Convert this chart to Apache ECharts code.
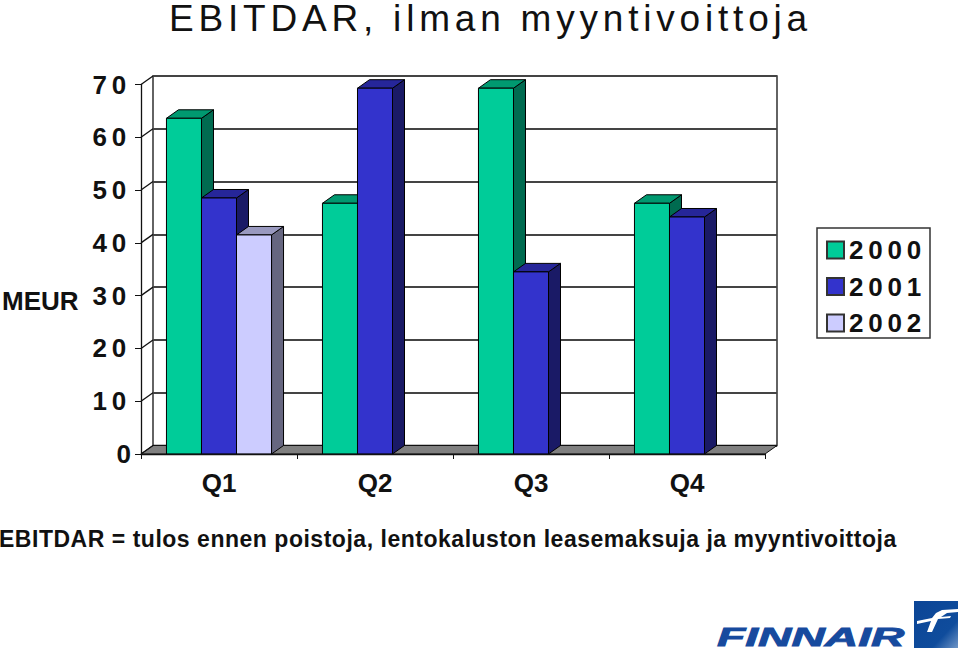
<!DOCTYPE html>
<html>
<head>
<meta charset="utf-8">
<style>html,body{margin:0;padding:0;background:#fff}#c{width:960px;height:650px}</style>
<script src="https://cdn.jsdelivr.net/npm/echarts@6/dist/echarts.min.js"></script>
</head>
<body>
<div id="c"></div>
<script>
const categories = ['Q1', 'Q2', 'Q3', 'Q4'];
const values2000 = [63.6, 47.5, 69.3, 47.5];
const values2001 = [48.5, 69.3, 34.5, 44.9];
const values2002 = [41.5, null, null, null];
const yTicks = [0, 10, 20, 30, 40, 50, 60, 70];
const seriesNames = ['2000', '2001', '2002'];
const titleText = 'EBITDAR, ilman myyntivoittoja';
const unitText = 'MEUR';
const footText = 'EBITDAR = tulos ennen poistoja, lentokaluston leasemaksuja ja myyntivoittoja';

const FONT = '"Liberation Sans", Arial, sans-serif';
const DX = 12, DY = 8.5;
const faces = [
  { front: '#00CC99', side: '#006B50', top: '#009970' },
  { front: '#3333CC', side: '#1A1A66', top: '#262699' },
  { front: '#CCCCFF', side: '#666680', top: '#9999BF' }
];
const edge = { stroke: '#000', lineWidth: 1 };

function bar3d(si) {
  return function (params, api) {
    const v = api.value(1);
    if (v == null || isNaN(v)) return null;
    const cat = api.value(0);
    const band = api.size([1, 0])[0];
    const w = band * 0.2245;
    const c = api.coord([cat, 0]);
    const t = api.coord([cat, v]);
    const x0 = c[0] + (si - 1.5) * w;
    const x1 = x0 + w, y0 = c[1], y1 = t[1];
    const col = faces[si];
    return {
      type: 'group',
      children: [
        { type: 'polygon', shape: { points: [[x1, y0], [x1 + DX, y0 - DY], [x1 + DX, y1 - DY], [x1, y1]] }, style: Object.assign({ fill: col.side }, edge) },
        { type: 'polygon', shape: { points: [[x0, y1], [x1, y1], [x1 + DX, y1 - DY], [x0 + DX, y1 - DY]] }, style: Object.assign({ fill: col.top }, edge) },
        { type: 'rect', shape: { x: x0, y: y1, width: w, height: y0 - y1 }, style: Object.assign({ fill: col.front }, edge) }
      ]
    };
  };
}

function makeBar(si, arr) {
  return {
    type: 'custom', name: seriesNames[si], xAxisIndex: 0, yAxisIndex: 0, z: 5 + si,
    coordinateSystem: 'cartesian2d',
    itemStyle: { color: faces[si].front, borderColor: '#333', borderWidth: 1 },
    data: arr.map((v, i) => [i, v]),
    encode: { x: 0, y: 1 },
    renderItem: bar3d(si)
  };
}

const option = {
  animation: false,
  backgroundColor: '#fff',
  title: {
    text: titleText, left: 169, top: 0, padding: 0,
    textStyle: { fontFamily: FONT, fontSize: 37, fontWeight: 'normal', color: '#111' }
  },
  legend: {
    data: seriesNames, orient: 'vertical', left: 817, top: 228, icon: 'rect',
    padding: [9, 0, 0, 9], itemWidth: 17, itemHeight: 17, itemGap: 10.5, selectedMode: false,
    textStyle: { fontFamily: FONT, fontSize: 26, fontWeight: 'bold', color: '#111' }
  },
  grid: [
    { left: 141, top: 84.5, width: 624, height: 369.5, containLabel: false },
    { left: 153, top: 76, width: 624, height: 369.5, show: true, borderColor: '#111', borderWidth: 1.3, backgroundColor: '#fff' }
  ],
  xAxis: [
    { type: 'category', gridIndex: 0, data: categories, z: 8,
      axisLine: { lineStyle: { color: '#111', width: 1.3 } },
      axisTick: { show: true, length: 5, lineStyle: { color: '#111' } },
      axisLabel: { margin: 16, fontFamily: FONT, fontSize: 26, fontWeight: 'bold', color: '#111' } },
    { type: 'category', gridIndex: 1, data: categories, show: false }
  ],
  yAxis: [
    { type: 'value', gridIndex: 0, min: 0, max: 70, interval: 10, z: 8,
      splitLine: { show: false },
      axisLine: { show: true, lineStyle: { color: '#111', width: 1.3 } },
      axisTick: { show: true, length: 6, lineStyle: { color: '#111' } },
      axisLabel: { margin: 10, fontFamily: FONT, fontSize: 26, fontWeight: 'bold', color: '#111' } },
    { type: 'value', gridIndex: 1, min: 0, max: 70, interval: 10,
      axisLine: { show: false }, axisTick: { show: false }, axisLabel: { show: false },
      splitLine: { show: true, lineStyle: { color: '#444', width: 2 } } }
  ],
  graphic: [
    { type: 'rect', x: 817, y: 228, z: -1, shape: { width: 113, height: 110 },
      style: { fill: '#fff', stroke: '#333', lineWidth: 1.5 } },
    { type: 'text', x: 2, y: 288, style: { text: unitText, font: 'bold 26px ' + FONT, fill: '#111' } },
    { type: 'text', x: -1, y: 527, style: { text: footText, font: 'bold 23px ' + FONT, fill: '#111' } },
    { type: 'rect', x: 914, y: 601, shape: { width: 44, height: 47 },
      style: { fill: new echarts.graphic.LinearGradient(0, 0, 1, 1, [
        { offset: 0, color: '#0B4596' }, { offset: 0.7, color: '#0F4C9C' }, { offset: 1, color: '#6F95C6' }]) } },
    { type: 'polygon', x: 914, y: 601, shape: { points: [[3, 20], [18, 17], [22, 12], [28, 9], [44, 8], [44, 11], [33, 12], [27, 16], [37, 15], [36, 17], [24, 18], [18, 31], [13, 31], [17, 20], [3, 23]] },
      style: { fill: '#fff' } },
    { type: 'text', x: 717, y: 625, scaleX: 1.85, scaleY: 1,
      style: { text: 'FINNAIR', font: 'italic bold 25px ' + FONT, fill: '#174A9E', stroke: '#174A9E', lineWidth: 0.8 } }
  ],
  series: [
    { type: 'custom', name: 'frame', z: 3, coordinateSystem: 'cartesian2d', xAxisIndex: 0, yAxisIndex: 0,
      silent: true, data: yTicks.map(v => [0, v]), encode: { x: 0, y: 1 },
      renderItem: function (params, api) {
        const band = api.size([1, 0])[0];
        const p = api.coord([0, api.value(1)]);
        const xl = p[0] - band / 2;
        const children = [];
        if (api.value(1) === 0) {
          const xr = xl + band * categories.length;
          children.push({ type: 'polygon', shape: { points: [[xl, p[1]], [xr, p[1]], [xr + DX, p[1] - DY], [xl + DX, p[1] - DY]] },
            style: { fill: '#808080', stroke: '#111', lineWidth: 1 } });
        }
        children.push({ type: 'line', shape: { x1: xl, y1: p[1], x2: xl + DX, y2: p[1] - DY }, style: { stroke: '#111', lineWidth: 1.3 } });
        return { type: 'group', children };
      } },
    makeBar(0, values2000),
    makeBar(1, values2001),
    makeBar(2, values2002)
  ]
};

const chart = echarts.init(document.getElementById('c'), null, { renderer: 'svg' });
chart.setOption(option);

function spaceText() {
  document.querySelectorAll('#c text').forEach(function (el) {
    const s = el.textContent;
    if (s === titleText) el.style.letterSpacing = '4.8px';
    else if (/^\d+$/.test(s) && s.length >= 2) el.style.letterSpacing = '4.8px';
    else if (s === footText) el.style.letterSpacing = '0.52px';
  });
}
spaceText();
chart.on('finished', spaceText);
</script>
</body>
</html>
